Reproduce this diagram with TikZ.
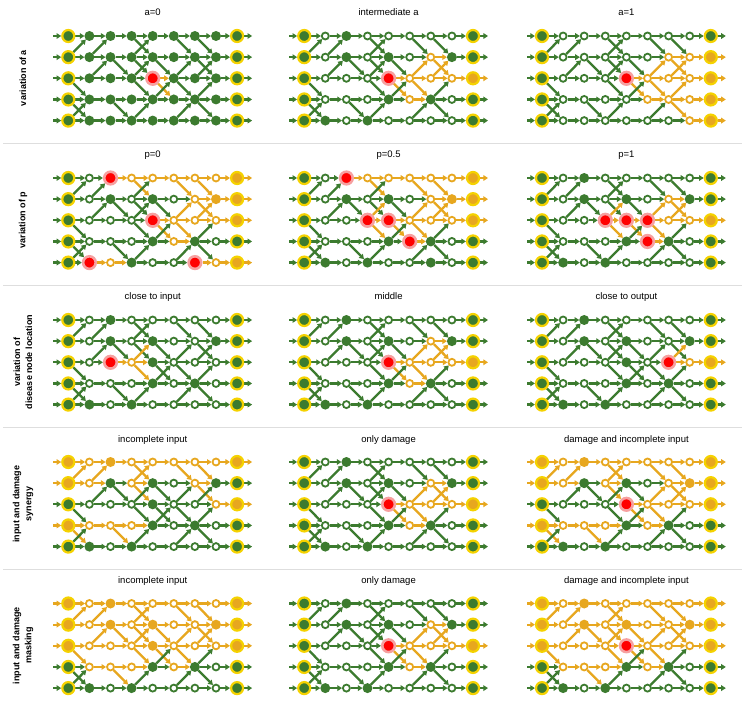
\documentclass[tikz,border=0pt]{standalone}
\usepackage{fontspec}
\setmainfont{Liberation Sans}
\usetikzlibrary{arrows.meta}
\definecolor{grn}{RGB}{60,123,47}
\definecolor{org}{RGB}{231,167,31}
\definecolor{ylw}{RGB}{245,210,0}
\definecolor{rd}{RGB}{255,0,0}
\definecolor{rdh}{RGB}{246,160,160}
\definecolor{sepc}{RGB}{222,222,222}
\colorlet{ecG}{grn}\colorlet{ecg}{grn}\colorlet{ecIG}{grn}
\colorlet{ecO}{org}\colorlet{eco}{org}\colorlet{ecIO}{org}\colorlet{ecR}{org}
\pgfdeclarelayer{edges}
\pgfsetlayers{edges,main}
\tikzset{
  nd/.style={circle, inner sep=0pt},
  stG/.style={nd, fill=grn, minimum size=10pt, outer sep=0pt},
  stO/.style={nd, fill=org, minimum size=10pt, outer sep=0pt},
  stg/.style={nd, fill=white, draw=grn, line width=1.8pt, minimum size=7pt, outer sep=0.9pt},
  sto/.style={nd, fill=white, draw=org, line width=1.8pt, minimum size=7pt, outer sep=0.9pt},
  stR/.style={nd, fill=rd, draw=rdh, line width=2.6pt, minimum size=12.6pt, outer sep=1.3pt},
  stIG/.style={nd, fill=grn, draw=ylw, line width=2.2pt, minimum size=12pt, outer sep=1.1pt},
  stIO/.style={nd, fill=org, draw=ylw, line width=2.2pt, minimum size=12pt, outer sep=1.1pt},
  edgeline/.style={line width=2.3pt, -{Triangle[length=4.6pt,width=5.6pt]}},
  ttl/.style={font=\fontsize{9.5}{11}\selectfont, inner sep=0pt, anchor=base},
  side/.style={font=\fontsize{9}{12}\selectfont\bfseries, rotate=90, align=center, inner sep=0pt},
}
\def\dx{21.1}
\def\dy{21.15}
\newcommand\mypanel[8]{%
  \foreach \rowlist [count=\ri from 0] in {{#4},{#5},{#6},{#7},{#8}}{%
    \foreach \s [count=\cj from 0] in \rowlist {%
      \node[st\s] (#1-\cj-\ri) at ({#2+\cj*\dx},{#3+\ri*\dy}) {};
      \expandafter\xdef\csname ns@#1-\cj-\ri\endcsname{\s}%
    }%
  }%
  \begin{pgfonlayer}{edges}
    \foreach \ri in {0,...,4}{%
      \coordinate (#1-in-\ri) at ({#2-15},{#3+\ri*\dy});
      \coordinate (#1-out-\ri) at ({#2+8*\dx+15},{#3+\ri*\dy});
      \edef\myec{\csname ns@#1-0-\ri\endcsname}%
      \draw[edgeline, color=ec\myec] (#1-in-\ri) -- (#1-0-\ri);
      \edef\myec{\csname ns@#1-8-\ri\endcsname}%
      \draw[edgeline, color=ec\myec] (#1-8-\ri) -- (#1-out-\ri);
      \foreach \cj in {0,...,7}{%
        \pgfmathtruncatemacro\cn{\cj+1}%
        \edef\myec{\csname ns@#1-\cj-\ri\endcsname}%
        \draw[edgeline, color=ec\myec] (#1-\cj-\ri) -- (#1-\cn-\ri);
      }%
    }%
    \foreach \cj/\ra/\rb in {0/1/0,0/2/3,0/3/4,0/4/3,1/1/0,1/2/1,2/1/2,2/3/4,3/0/1,3/1/0,3/1/2,3/2/1,3/2/3,3/4/3,4/1/2,4/2/3,4/3/2,5/0/1,5/2/1,5/2/3,5/4/3,6/0/1,6/1/2,6/2/1,6/3/2,6/3/4}{%
      \pgfmathtruncatemacro\cn{\cj+1}%
      \edef\myec{\csname ns@#1-\cj-\ra\endcsname}%
      \draw[edgeline, color=ec\myec] (#1-\cj-\ra) -- (#1-\cn-\rb);
    }%
  \end{pgfonlayer}
}
\begin{document}
\begin{tikzpicture}[x=1pt,y=-1pt]
\useasboundingbox (0,0) rectangle (747,711);
% separators
\foreach \yy [count=\k] in {143,285,427,569}{
  \coordinate (sl\k) at (3,\yy);
  \coordinate (sr\k) at (742,\yy);
  \draw[sepc, line width=0.8pt] (sl\k) -- (sr\k);
}
% side labels
\node[side] (s1) at (23,78) {variation of a};
\node[side] (s2) at (23,220) {variation of p};
\node[side] (s3) at (23,362) {variation of\\disease node location};
\node[side] (s4) at (23,504) {input and damage\\synergy};
\node[side] (s5) at (23,645.5) {input and damage\\masking};
% titles
\node[ttl] (t11) at (152.7,16) {a=0};
\node[ttl] (t12) at (388.6,16) {intermediate a};
\node[ttl] (t13) at (626.4,16) {a=1};
\node[ttl] (t21) at (152.7,158) {p=0};
\node[ttl] (t22) at (388.6,158) {p=0.5};
\node[ttl] (t23) at (626.4,158) {p=1};
\node[ttl] (t31) at (152.7,300) {close to input};
\node[ttl] (t32) at (388.6,300) {middle};
\node[ttl] (t33) at (626.4,300) {close to output};
\node[ttl] (t41) at (152.7,442) {incomplete input};
\node[ttl] (t42) at (388.6,442) {only damage};
\node[ttl] (t43) at (626.4,442) {damage and incomplete input};
\node[ttl] (t51) at (152.7,583.5) {incomplete input};
\node[ttl] (t52) at (388.6,583.5) {only damage};
\node[ttl] (t53) at (626.4,583.5) {damage and incomplete input};
% row 1
\mypanel{pa}{68.3}{36}{IG,G,G,G,G,G,G,G,IG}{IG,G,G,G,G,G,G,G,IG}{IG,G,G,G,R,G,G,G,IG}{IG,G,G,G,G,G,G,G,IG}{IG,G,G,G,G,G,G,G,IG}
\mypanel{pb}{304.2}{36}{IG,g,G,g,g,g,g,g,IG}{IG,g,G,g,G,g,o,G,IG}{IG,g,g,g,R,o,o,o,IO}{IG,g,g,g,G,o,G,g,IG}{IG,G,g,G,g,g,g,g,IG}
\mypanel{pc}{542}{36}{IG,g,g,g,g,g,g,g,IG}{IG,g,g,g,g,g,o,o,IO}{IG,g,g,g,R,o,o,o,IO}{IG,g,g,g,g,o,o,o,IO}{IG,g,g,g,g,g,g,o,IO}
% row 2
\mypanel{pd}{68.3}{178}{IG,g,R,o,o,o,o,o,IO}{IG,g,G,g,G,g,o,O,IO}{IG,g,g,g,R,o,o,o,IO}{IG,g,g,g,G,o,G,g,IG}{IG,R,o,G,g,g,R,o,IO}
\mypanel{pe}{304.2}{178}{IG,g,R,o,o,o,o,o,IO}{IG,g,G,g,G,g,o,O,IO}{IG,g,g,R,R,o,o,o,IO}{IG,g,g,g,G,R,G,g,IG}{IG,G,g,G,g,g,G,g,IG}
\mypanel{pf}{542}{178}{IG,g,G,g,g,g,g,g,IG}{IG,g,G,g,G,g,o,G,IG}{IG,g,g,R,R,R,o,o,IO}{IG,g,g,g,G,R,G,g,IG}{IG,G,g,G,g,g,g,g,IG}
% row 3
\mypanel{pg}{68.3}{320}{IG,g,G,g,g,g,g,g,IG}{IG,g,G,g,G,g,g,G,IG}{IG,g,R,o,G,g,g,g,IG}{IG,g,g,g,G,g,G,g,IG}{IG,G,g,G,g,g,g,g,IG}
\mypanel{ph}{304.2}{320}{IG,g,G,g,g,g,g,g,IG}{IG,g,G,g,G,g,o,G,IG}{IG,g,g,g,R,o,o,o,IO}{IG,g,g,g,G,o,G,g,IG}{IG,G,g,G,g,g,g,g,IG}
\mypanel{pi}{542}{320}{IG,g,G,g,g,g,g,g,IG}{IG,g,G,g,G,g,g,G,IG}{IG,g,g,g,G,g,R,o,IO}{IG,g,g,g,G,g,G,g,IG}{IG,G,g,G,g,g,g,g,IG}
% row 4
\mypanel{pj}{68.3}{462}{IO,o,O,o,o,o,o,o,IO}{IO,o,G,o,G,g,o,G,IG}{IG,g,g,g,G,g,g,o,IO}{IO,o,o,o,G,g,G,g,IG}{IG,G,g,G,g,g,g,g,IG}
\mypanel{pk}{304.2}{462}{IG,g,G,g,g,g,g,g,IG}{IG,g,G,g,G,g,o,G,IG}{IG,g,g,g,R,o,o,o,IO}{IG,g,g,g,G,o,G,g,IG}{IG,G,g,G,g,g,g,g,IG}
\mypanel{pl}{542}{462}{IO,o,O,o,o,o,o,o,IO}{IO,o,G,o,G,g,o,O,IO}{IG,g,g,g,R,o,o,o,IO}{IO,o,o,o,G,o,G,g,IG}{IG,G,g,G,g,g,g,g,IG}
% row 5
\mypanel{pm}{68.3}{603.5}{IO,o,O,o,o,o,o,o,IO}{IO,o,O,o,O,o,o,O,IO}{IO,o,o,o,O,o,o,o,IO}{IG,o,o,o,G,o,G,g,IG}{IG,G,g,G,g,g,g,g,IG}
\mypanel{pn}{304.2}{603.5}{IG,g,G,g,g,g,g,g,IG}{IG,g,G,g,G,g,o,G,IG}{IG,g,g,g,R,o,o,o,IO}{IG,g,g,g,G,o,G,g,IG}{IG,G,g,G,g,g,g,g,IG}
\mypanel{po}{542}{603.5}{IO,o,O,o,o,o,o,o,IO}{IO,o,O,o,O,o,o,O,IO}{IO,o,o,o,R,o,o,o,IO}{IG,o,o,o,G,o,G,g,IG}{IG,G,g,G,g,g,g,g,IG}
\end{tikzpicture}
\end{document}
